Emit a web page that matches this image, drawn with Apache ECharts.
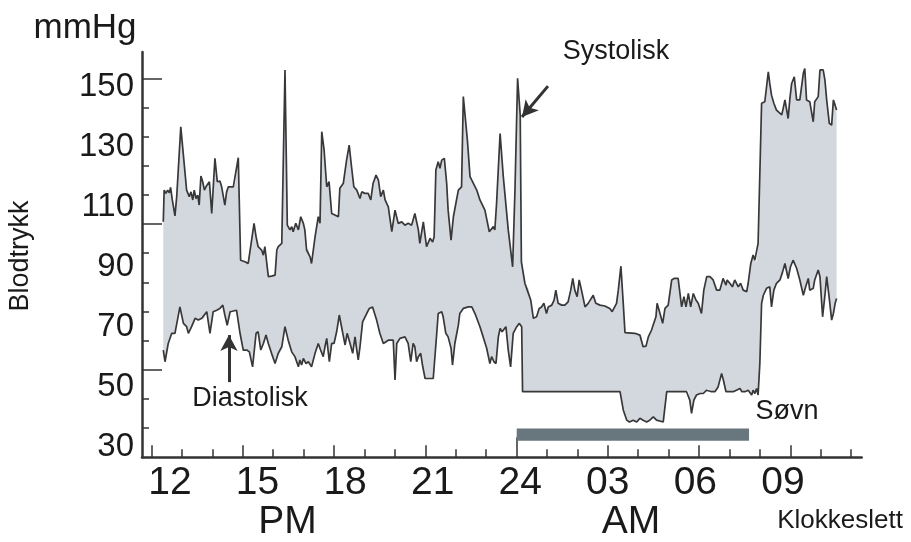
<!DOCTYPE html>
<html><head><meta charset="utf-8">
<script src="https://cdn.jsdelivr.net/npm/echarts@6/dist/echarts.min.js"></script>
<style>html,body{margin:0;padding:0;background:#fff}#c{width:911px;height:542px}</style>
</head><body><div id="c"></div>
<script>
// Time in hours (24 = midnight, 27 = 03, 33 = 09), pressure in mmHg
const sysHours = [11.77,11.80,11.86,11.92,11.98,12.02,12.08,12.17,12.23,12.37,12.57,12.66,12.72,12.78,12.83,12.89,12.95,13.00,13.06,13.12,13.18,13.23,13.29,13.35,13.43,13.54,13.62,13.71,13.77,13.88,13.94,14.00,14.17,14.23,14.34,14.42,14.57,14.68,14.88,14.95,15.02,15.14,15.20,15.25,15.37,15.48,15.60,15.66,15.71,15.83,15.94,16.02,16.11,16.17,16.22,16.31,16.40,16.48,16.57,16.62,16.68,16.74,16.80,16.85,16.97,17.08,17.14,17.20,17.28,17.37,17.45,17.54,17.65,17.77,17.82,17.94,18.05,18.14,18.22,18.30,18.40,18.51,18.57,18.68,18.79,18.88,18.96,19.06,19.14,19.22,19.31,19.37,19.48,19.60,19.71,19.82,19.94,20.05,20.16,20.28,20.39,20.51,20.56,20.68,20.79,20.91,21.00,21.05,21.11,21.19,21.25,21.31,21.40,21.48,21.53,21.63,21.71,21.88,21.99,22.05,22.19,22.28,22.34,22.51,22.62,22.79,22.94,23.08,23.13,23.19,23.31,23.42,23.59,23.74,23.82,23.91,24.00,24.04,24.16,24.22,24.27,24.36,24.45,24.56,24.65,24.73,24.81,24.90,24.96,25.08,25.16,25.22,25.30,25.42,25.53,25.64,25.73,25.80,25.87,25.95,26.02,26.10,26.22,26.33,26.39,26.50,26.59,26.73,26.90,27.07,27.15,27.30,27.36,27.45,27.53,27.59,27.93,28.10,28.16,28.21,28.31,28.39,28.50,28.56,28.65,28.69,28.79,28.88,28.96,29.07,29.19,29.27,29.41,29.53,29.61,29.68,29.76,29.84,29.93,30.02,30.10,30.21,30.29,30.39,30.50,30.61,30.73,30.84,30.95,31.05,31.09,31.18,31.27,31.35,31.47,31.55,31.64,31.76,31.81,31.90,31.98,32.04,32.10,32.15,32.27,32.38,32.50,32.55,32.61,32.69,32.78,32.84,32.96,33.01,33.07,33.18,33.24,33.30,33.39,33.47,33.58,33.70,33.75,33.81,33.92,34.04,34.09,34.21,34.27,34.38,34.44,34.50,34.59,34.67,34.73,34.79,34.84];
const systolic = [105.1,115.7,114.6,115.7,114.8,116.6,112.4,107.1,113.5,136.8,115.7,113.5,115.1,112.4,115.7,112.9,114.0,110.7,120.4,118.5,115.7,116.8,117.4,118.5,107.9,126.3,118.5,118.7,116.8,110.7,115.1,116.8,116.8,117.4,126.5,92.3,91.8,91.2,104.6,100.1,96.8,95.7,94.0,96.8,86.8,87.0,87.3,95.7,96.8,97.9,155.8,104.0,102.4,103.5,101.8,104.6,102.4,106.8,104.6,102.4,95.7,96.2,93.4,91.2,100.1,106.8,104.6,135.2,129.1,116.8,118.5,107.9,107.4,106.8,116.3,118.0,125.7,130.7,123.5,116.8,115.7,112.9,115.1,114.6,114.6,112.4,118.0,120.7,119.0,113.5,115.7,112.4,110.1,101.8,109.0,104.6,105.1,104.0,104.6,104.0,107.9,102.4,97.9,105.1,96.8,99.6,98.4,100.1,122.4,125.2,123.0,125.7,126.3,118.0,109.0,99.0,106.8,115.7,116.8,146.9,132.4,120.2,119.0,115.7,112.4,109.0,101.8,103.5,102.4,111.3,134.6,120.2,102.4,90.1,115.7,153.0,140.7,91.7,84.6,82.9,83.4,79.0,72.9,73.4,76.2,76.7,77.9,74.5,76.7,77.3,79.0,82.3,77.9,77.3,77.3,78.4,82.3,86.2,82.3,80.1,85.7,82.3,76.7,77.9,77.9,80.6,77.9,77.3,77.0,76.2,75.1,77.9,82.3,90.3,77.9,68.1,67.9,67.3,66.7,63.4,63.6,66.7,69.0,69.5,73.4,77.9,74.5,71.2,76.2,77.3,85.7,86.2,86.2,76.7,80.1,76.7,81.2,76.7,81.2,79.0,77.9,74.5,82.3,86.8,86.8,85.7,82.3,82.3,86.2,84.0,85.7,84.6,83.4,85.7,83.4,84.6,82.3,81.8,84.6,91.2,94.0,92.3,91.8,97.9,144.7,145.2,155.2,151.3,147.4,144.7,142.4,142.4,140.8,143.0,145.8,139.6,146.3,151.3,153.5,145.8,145.8,154.7,156.3,145.8,145.2,138.5,145.2,146.9,155.8,155.8,152.4,145.8,138.0,137.4,145.8,145.2,142.4];
const diaHours = [11.77,11.83,11.94,12.06,12.17,12.34,12.46,12.57,12.63,12.74,12.86,12.97,13.09,13.14,13.26,13.37,13.48,13.60,13.71,13.81,13.88,13.96,14.06,14.11,14.28,14.40,14.51,14.63,14.72,14.83,14.95,15.02,15.11,15.20,15.29,15.37,15.48,15.60,15.71,15.83,15.94,16.05,16.17,16.28,16.40,16.45,16.51,16.57,16.66,16.74,16.85,16.97,17.08,17.16,17.25,17.31,17.37,17.46,17.54,17.62,17.71,17.80,17.92,18.00,18.07,18.17,18.26,18.34,18.40,18.45,18.51,18.60,18.74,18.83,18.94,19.08,19.19,19.31,19.48,19.65,19.71,19.77,19.88,20.05,20.16,20.25,20.33,20.39,20.45,20.51,20.59,20.65,20.74,21.02,21.14,21.19,21.31,21.36,21.45,21.53,21.63,21.68,21.76,21.88,21.93,22.05,22.22,22.34,22.45,22.62,22.73,22.85,22.96,23.02,23.10,23.17,23.25,23.31,23.38,23.44,23.51,23.59,23.67,23.76,23.88,23.97,24.05,24.08,27.42,27.53,27.65,27.74,27.87,27.99,28.10,28.21,28.33,28.44,28.56,28.67,28.90,29.02,29.70,29.76,29.81,29.87,29.95,30.04,30.16,30.27,30.39,30.44,30.56,30.67,30.78,30.90,30.96,31.05,31.30,31.53,31.59,31.70,31.81,31.93,31.98,32.04,32.10,32.15,32.21,32.27,32.33,32.44,32.55,32.61,32.69,32.78,32.90,32.99,33.07,33.18,33.26,33.35,33.47,33.58,33.70,33.78,33.87,33.92,33.98,34.04,34.09,34.21,34.27,34.36,34.44,34.50,34.59,34.67,34.73,34.79,34.84];
const diastolic = [62.3,58.4,64.5,67.9,67.9,76.7,71.2,70.1,67.9,70.1,72.9,72.3,72.9,72.3,75.1,67.9,75.1,75.6,76.2,77.3,74.0,70.6,75.1,75.6,75.6,67.9,62.3,62.3,61.7,56.7,67.9,68.4,62.3,64.5,67.3,64.5,61.2,57.8,61.2,63.4,70.1,65.6,61.7,60.1,56.7,59.0,57.3,59.5,57.8,58.4,56.7,61.2,64.5,62.3,60.1,63.4,66.2,58.4,64.5,64.5,68.4,74.0,67.9,64.0,67.9,64.5,61.2,66.7,62.3,59.0,63.4,71.7,74.5,76.2,76.7,72.3,67.9,64.5,65.6,65.6,52.3,64.5,66.2,66.7,64.5,58.4,64.5,63.4,58.4,60.1,61.2,57.3,52.8,52.8,67.9,74.5,75.1,73.4,67.9,66.7,62.9,57.3,64.5,70.6,74.5,76.2,76.7,76.7,74.5,70.1,66.7,62.9,57.8,60.1,58.4,57.8,66.7,69.5,68.4,69.0,70.1,62.3,56.7,67.9,70.1,71.2,70.1,48.4,48.4,42.3,38.9,38.3,38.9,38.3,39.5,38.9,38.3,38.9,40.0,38.9,38.3,48.4,48.4,48.9,45.6,41.2,45.6,47.3,47.8,47.8,48.9,49.5,48.4,48.4,50.0,54.5,52.3,48.4,48.4,49.5,48.4,48.4,48.9,47.3,48.9,47.8,49.5,47.3,57.8,77.9,80.6,82.9,83.4,76.7,82.3,84.6,85.7,88.4,91.2,86.2,90.1,92.3,89.6,85.7,80.6,83.4,86.2,82.3,82.9,82.9,85.7,89.0,86.8,73.4,80.6,86.8,79.5,72.3,74.5,77.9,79.5];
const hourTicks = [12,13,14,15,16,17,18,19,20,21,22,23,24,25,26,27,28,29,30,31,32,33,34,35];
const hourMajorTicks = [12,15,18,21,27,30,33];
const midnightTick = [24];
const hourLabelValues = [12,15,18,21,24,27,30,33];
const hourLabels = ['12','15','18','21','24','03','06','09'];
const mmHgLabels = [30,50,70,90,110,130,150];
const mmHgTicks = [30,40,50,60,70,80,90,100,110,120,130,140,150];
const mmHgMajorTicks = [50,100,150];
const sleepStart = [23.88], sleepEnd = [31.84], sleepTop = [36.1], sleepBottom = [32.0];
const diaArrow = [[14.02, 51.6], [14.02, 67.3]];
const sysArrow = [[24.95, 150.4], [24.06, 140.1]];

const FONT = 'Liberation Sans, Arial, sans-serif';
const AX = '#333';
const chart = echarts.init(document.getElementById('c'), null, {renderer: 'canvas'});
const tickAxisBase = {type: 'value', axisLine: {show: false}, axisLabel: {show: false}, splitLine: {show: false}};
chart.setOption({
  animation: false,
  backgroundColor: '#fff',
  grid: {left: 142, right: 49.3, top: 52, bottom: 84.7, outerBoundsMode: 'none'},
  xAxis: [
    {type: 'value', min: 11.041, max: 35.70, position: 'bottom',
      axisLine: {show: true, onZero: false, lineStyle: {color: AX, width: 2.5}},
      axisTick: {show: false}, splitLine: {show: false},
      axisLabel: {customValues: hourLabelValues, formatter: v => hourLabels[hourLabelValues.indexOf(v)],
        fontSize: 39, color: '#1a1a1a', fontFamily: FONT, margin: 6}},
    Object.assign({}, tickAxisBase, {min: 11.688, max: 35.347, position: 'bottom',
      axisTick: {show: true, inside: true, customValues: hourTicks, length: 8, lineStyle: {color: AX, width: 1.5}}}),
    Object.assign({}, tickAxisBase, {min: 11.688, max: 35.347, position: 'bottom',
      axisTick: {show: true, inside: true, customValues: hourMajorTicks, length: 12, lineStyle: {color: AX, width: 1.5}}}),
    Object.assign({}, tickAxisBase, {min: 11.688, max: 35.347, position: 'bottom',
      axisTick: {show: true, inside: true, customValues: midnightTick, length: 20, lineStyle: {color: AX, width: 1.5}}})
  ],
  yAxis: [
    {type: 'value', min: 26.5, max: 161.8, position: 'left',
      axisLine: {show: true, onZero: false, lineStyle: {color: AX, width: 2.5}},
      axisTick: {show: false}, splitLine: {show: false},
      axisLabel: {customValues: mmHgLabels, fontSize: 33, color: '#1a1a1a', fontFamily: FONT, margin: 8}},
    Object.assign({}, tickAxisBase, {min: 20, max: 159.02, position: 'left',
      axisTick: {show: true, inside: true, customValues: mmHgTicks, length: 7, lineStyle: {color: AX, width: 1.5}}}),
    Object.assign({}, tickAxisBase, {min: 20, max: 159.02, position: 'left',
      axisTick: {show: true, inside: true, customValues: mmHgMajorTicks, length: 20, lineStyle: {color: AX, width: 1.5}}})
  ],
  series: [
    {type: 'custom', name: 'band', xAxisIndex: 0, yAxisIndex: 0, z: 1, silent: true,
      data: [[sysHours[0], systolic[0]]],
      renderItem: (params, api) => {
        const pts = [];
        for (let i = 0; i < sysHours.length; i++) pts.push(api.coord([sysHours[i], systolic[i]]));
        for (let i = diaHours.length - 1; i >= 0; i--) pts.push(api.coord([diaHours[i], diastolic[i]]));
        return {type: 'polygon', shape: {points: pts}, style: {fill: '#d3d7de'}};
      }},
    {type: 'line', name: 'Systolisk', xAxisIndex: 0, yAxisIndex: 0, z: 3, showSymbol: false, silent: true,
      data: sysHours.map((h, i) => [h, systolic[i]]),
      lineStyle: {color: '#383838', width: 1.7},
      markLine: {silent: true, symbol: ['none', 'arrow'], symbolSize: [13, 16], label: {show: false},
        lineStyle: {color: '#333', width: 3, type: 'solid'},
        data: [[{coord: sysArrow[0]}, {coord: sysArrow[1]}]]}},
    {type: 'line', name: 'Diastolisk', xAxisIndex: 0, yAxisIndex: 0, z: 3, showSymbol: false, silent: true,
      data: diaHours.map((h, i) => [h, diastolic[i]]),
      lineStyle: {color: '#383838', width: 1.7},
      markLine: {silent: true, symbol: ['none', 'arrow'], symbolSize: [13, 16], label: {show: false},
        lineStyle: {color: '#333', width: 3, type: 'solid'},
        data: [[{coord: diaArrow[0]}, {coord: diaArrow[1]}]]}},
    {type: 'custom', name: 'Søvn', xAxisIndex: 0, yAxisIndex: 0, z: 2, silent: true,
      data: sleepStart.map((s, i) => [s, sleepEnd[i], sleepTop[i], sleepBottom[i]]),
      encode: {x: [0, 1], y: [2, 3]},
      renderItem: (params, api) => {
        const a = api.coord([api.value(0), api.value(2)]);
        const b = api.coord([api.value(1), api.value(3)]);
        return {type: 'rect', shape: {x: a[0], y: a[1], width: b[0] - a[0], height: b[1] - a[1]}, style: {fill: '#68777d'}};
      }}
  ],
  graphic: [
    {type: 'text', x: 85, y: 28, style: {text: 'mmHg', font: '35px ' + FONT, fill: '#1a1a1a', align: 'center', verticalAlign: 'middle'}},
    {type: 'text', x: 21, y: 256, rotation: Math.PI / 2, style: {text: 'Blodtrykk', font: '27px ' + FONT, fill: '#1a1a1a', align: 'center', verticalAlign: 'middle'}},
    {type: 'text', x: 616, y: 52, style: {text: 'Systolisk', font: '27px ' + FONT, fill: '#1a1a1a', align: 'center', verticalAlign: 'middle'}},
    {type: 'text', x: 250, y: 399, style: {text: 'Diastolisk', font: '27px ' + FONT, fill: '#1a1a1a', align: 'center', verticalAlign: 'middle'}},
    {type: 'text', x: 787, y: 412, style: {text: 'Søvn', font: '27px ' + FONT, fill: '#1a1a1a', align: 'center', verticalAlign: 'middle'}},
    {type: 'text', x: 840, y: 521, style: {text: 'Klokkeslett', font: '26px ' + FONT, fill: '#1a1a1a', align: 'center', verticalAlign: 'middle'}},
    {type: 'text', x: 287.5, y: 522, style: {text: 'PM', font: '39px ' + FONT, fill: '#1a1a1a', align: 'center', verticalAlign: 'middle'}},
    {type: 'text', x: 631, y: 522, style: {text: 'AM', font: '39px ' + FONT, fill: '#1a1a1a', align: 'center', verticalAlign: 'middle'}}
  ]
});
</script></body></html>
